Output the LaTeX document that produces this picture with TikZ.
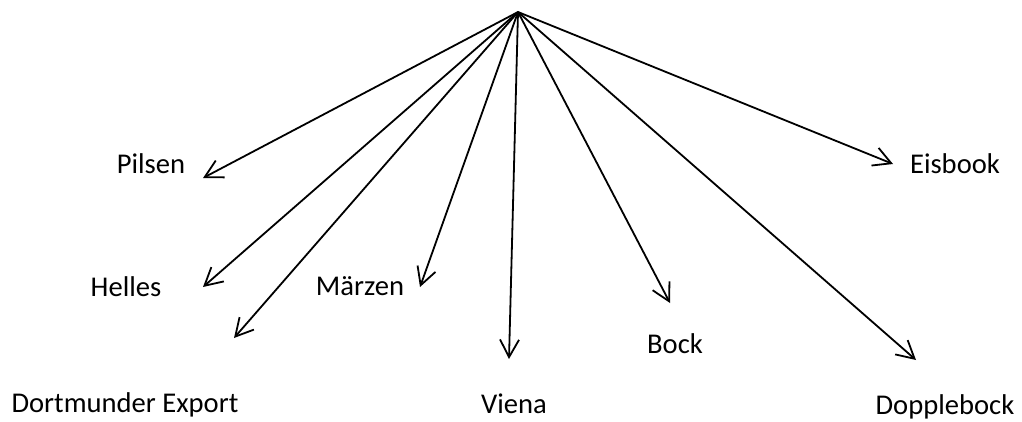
\documentclass[tikz,border=0pt]{standalone}
\usepackage{fontspec}
\setmainfont{Carlito}
\usetikzlibrary{arrows.meta}
\tikzset{
  lbl/.style={anchor=base,inner sep=0pt,font=\fontsize{28.6}{34}\selectfont},
  ray/.style={line width=1.8pt,-{Straight Barb[length=17.5pt,width=19pt,line width=1.8pt]}}
}
\begin{document}
\begin{tikzpicture}[x=1pt,y=-1pt]
\useasboundingbox[fill=white] (0,0) rectangle (1022,421);
\coordinate (src) at (518,12);
\coordinate (tPilsen) at (203,178);
\coordinate (tHelles) at (203,287);
\coordinate (tDort) at (234,338);
\coordinate (tMarzen) at (420,287);
\coordinate (tViena) at (509,359);
\coordinate (tBock) at (670,303);
\coordinate (tEis) at (893,164);
\coordinate (tDopple) at (916,360);
\node[lbl] (pilsen) at (151,173) {Pilsen};
\node[lbl] (helles) at (126,296) {Helles};
\node[lbl] (dort) at (125,412) {Dortmunder Export};
\node[lbl] (marzen) at (360,295) {Märzen};
\node[lbl] (viena) at (514,413) {Viena};
\node[lbl] (bock) at (675,353) {Bock};
\node[lbl] (eis) at (955,173) {Eisbook};
\node[lbl] (dopple) at (945,414) {Dopplebock};
\foreach \t in {tPilsen,tHelles,tDort,tMarzen,tViena,tBock,tEis,tDopple}
  \draw[ray] (src) -- (\t);
\end{tikzpicture}
\end{document}
